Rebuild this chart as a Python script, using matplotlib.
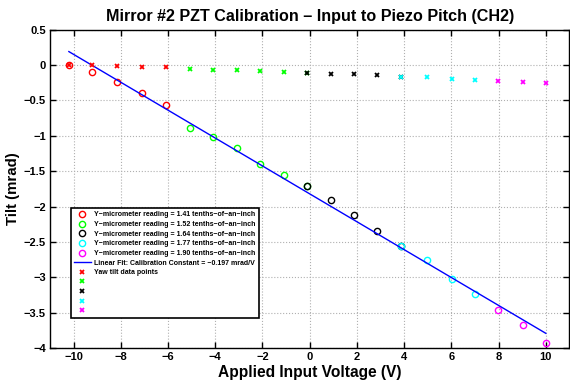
import numpy as np
import matplotlib
matplotlib.use('Agg')
import matplotlib.pyplot as plt
from matplotlib.ticker import FuncFormatter

plt.rcParams['font.family'] = ['Liberation Sans', 'DejaVu Sans']
plt.rcParams['font.weight'] = 'bold'

# Pitch tilt per micrometer reading (voltage V, tilt mrad)
v_141 = [-10.2, -9.2, -8.15, -7.1, -6.1]
pitch_141 = [0.0, -0.095, -0.236, -0.39, -0.565]
v_152 = [-5.05, -4.1, -3.1, -2.1, -1.1, -0.13]
pitch_152 = [-0.886, -1.017, -1.168, -1.40, -1.55, -1.705]
v_164 = [-0.13, 0.89, 1.87, 2.85, 3.88]
pitch_164 = [-1.705, -1.907, -2.12, -2.34, -2.55]
v_177 = [3.88, 4.96, 6.02, 7.0]
pitch_177 = [-2.55, -2.75, -3.02, -3.24]
v_190 = [7.98, 9.04, 10.0]
pitch_190 = [-3.46, -3.67, -3.92]

# Yaw tilt data points (same voltages)
yaw_141 = [0.0, -0.004, -0.014, -0.024, -0.032]
yaw_152 = [-0.056, -0.066, -0.075, -0.085, -0.099, -0.109]
yaw_164 = [-0.109, -0.123, -0.127, -0.145, -0.165]
yaw_177 = [-0.165, -0.174, -0.198, -0.216]
yaw_190 = [-0.23, -0.244, -0.254]

readings = ['1.41', '1.52', '1.64', '1.77', '1.90']
colors = ['#ff0000', '#00ff00', '#000000', '#00ffff', '#ff00ff']
fit_slope = -0.197
fit_offset = -1.82

volts = [v_141, v_152, v_164, v_177, v_190]
pitch = [pitch_141, pitch_152, pitch_164, pitch_177, pitch_190]
yaw = [yaw_141, yaw_152, yaw_164, yaw_177, yaw_190]

fig = plt.figure(figsize=(5.7, 3.81), dpi=100)
ax = fig.add_axes([0.0877, 0.0861, 0.9113, 0.8362])

circ_handles = []
for v, p, c in zip(volts, pitch, colors):
    h, = ax.plot(v, p, 'o', mfc='none', mec=c, ms=4.5, mew=1.0)
    circ_handles.append(h)

xfit = np.array([v_141[0], v_190[-1]])
fit_h, = ax.plot(xfit, fit_slope * xfit + fit_offset, '-', color='#0000ff', lw=1.0)

yaw_handles = []
for v, y, c in zip(volts, yaw, colors):
    h, = ax.plot(v, y, 'x', color=c, ms=3, mew=1.3)
    yaw_handles.append(h)

ax.set_xlim(-11, 11)
ax.set_ylim(-4, 0.5)
ax.set_xticks(np.arange(-10, 11, 2))
ax.set_yticks(np.arange(-4, 0.51, 0.5))
fmt = FuncFormatter(lambda val, pos: ('%g' % val).replace('-', '\u2212'))
ax.xaxis.set_major_formatter(fmt)
ax.yaxis.set_major_formatter(fmt)
ax.tick_params(direction='in', top=True, right=True, length=4, width=1,
               labelsize=8, pad=3)
for lab in ax.get_xticklabels() + ax.get_yticklabels():
    lab.set_fontweight('bold')
ax.grid(True, linestyle=':', color='#b0b0b0', linewidth=0.8)
for s in ax.spines.values():
    s.set_linewidth(1.0)

ax.set_title('Mirror #2 PZT Calibration \u2013 Input to Piezo Pitch (CH2)',
             fontsize=11.6, fontweight='bold', pad=6)
ax.set_xlabel('Applied Input Voltage (V)', fontsize=11.2, fontweight='bold', labelpad=2)
ax.set_ylabel('Tilt (mrad)', fontsize=10.8, fontweight='bold', labelpad=3)

handles = circ_handles + [fit_h] + yaw_handles
labels = ['Y\u2212micrometer reading = %s tenths\u2212of\u2212an\u2212inch' % r for r in readings]
labels += ['Linear Fit: Calibration Constant = \u22120.197 mrad/V',
           'Yaw tilt data points', '', '', '', '']
leg = ax.legend(handles, labels, loc='lower left', bbox_to_anchor=(0.0404, 0.095),
                borderaxespad=0, prop={'weight': 'bold', 'size': 5.0},
                fancybox=False, framealpha=1, edgecolor='black',
                labelspacing=0.38, handlelength=2.4, handletextpad=0.5,
                borderpad=0.45, numpoints=1)
leg.get_frame().set_linewidth(1.2)

fig.savefig('out.png', dpi=100)
